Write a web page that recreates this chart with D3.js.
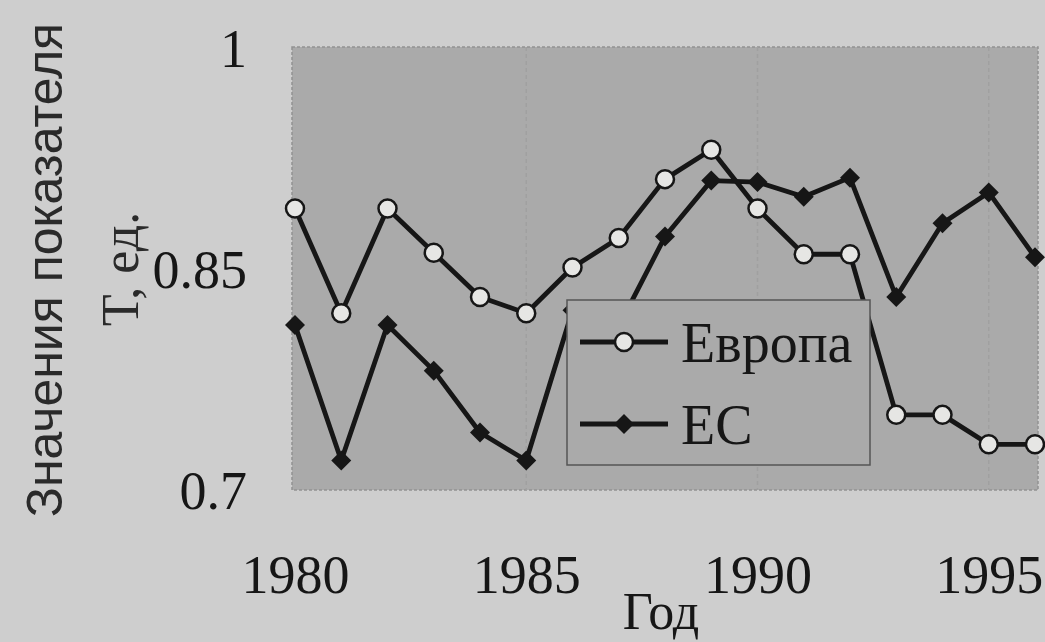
<!DOCTYPE html>
<html>
<head>
<meta charset="utf-8">
<script src="https://cdn.jsdelivr.net/npm/d3@7"></script>
<style>
  body { margin: 0; background: #cecece; }
  svg { display: block; }
</style>
</head>
<body>
<div id="chart"></div>
<script>
// Input data
const years = [1980, 1981, 1982, 1983, 1984, 1985, 1986, 1987, 1988,
               1989, 1990, 1991, 1992, 1993, 1994, 1995, 1996];
const europe = [0.891, 0.820, 0.891, 0.861, 0.831, 0.820, 0.851, 0.871, 0.911,
                0.931, 0.891, 0.860, 0.860, 0.751, 0.751, 0.731, 0.731];
const ec = [0.812, 0.720, 0.812, 0.781, 0.739, 0.720, 0.822, 0.811, 0.872,
            0.910, 0.909, 0.899, 0.912, 0.831, 0.881, 0.902, 0.858];
const xTicks = [1980, 1985, 1990, 1995];
const yTicks = [0.7, 0.85, 1];
const seriesNames = ['Европа', 'ЕС'];

const width = 1045;
const height = 642;

const svg = d3.select('#chart')
  .append('svg')
  .attr('width', width)
  .attr('height', height);

const x = d3.scaleLinear().domain([1980, 1996]).range([295, 1035]);
const y = d3.scaleLinear().domain([0.7, 1]).range([490, 48]);

// plot background
svg.append('rect')
  .attr('x', 292).attr('y', 47)
  .attr('width', 746).attr('height', 443)
  .attr('fill', '#aaaaaa')
  .attr('stroke', '#929292')
  .attr('stroke-width', 1.5)
  .attr('stroke-dasharray', '3,2');

// faint vertical grid
svg.append('g')
  .selectAll('line')
  .data(xTicks.slice(1))
  .enter()
  .append('line')
  .attr('x1', d => x(d)).attr('x2', d => x(d))
  .attr('y1', 47).attr('y2', 490)
  .attr('stroke', '#a0a0a0')
  .attr('stroke-width', 1.5)
  .attr('stroke-dasharray', '4,3');

const line = d3.line()
  .x((d, i) => x(years[i]))
  .y(d => y(d));

// EC series
svg.append('path')
  .datum(ec)
  .attr('d', line)
  .attr('fill', 'none')
  .attr('stroke', '#161616')
  .attr('stroke-width', 4.8)
  .attr('stroke-linejoin', 'round');

const diamond = d3.symbol().type(d3.symbolSquare).size(200);

svg.append('g')
  .selectAll('path')
  .data(ec)
  .enter()
  .append('path')
  .attr('d', diamond)
  .attr('transform', (d, i) => `translate(${x(years[i])}, ${y(d)}) rotate(45)`)
  .attr('fill', '#161616');

// Europe series
svg.append('path')
  .datum(europe)
  .attr('d', line)
  .attr('fill', 'none')
  .attr('stroke', '#161616')
  .attr('stroke-width', 4.8)
  .attr('stroke-linejoin', 'round');

svg.append('g')
  .selectAll('circle')
  .data(europe)
  .enter()
  .append('circle')
  .attr('cx', (d, i) => x(years[i]))
  .attr('cy', d => y(d))
  .attr('r', 9)
  .attr('fill', '#e6e6e4')
  .attr('stroke', '#161616')
  .attr('stroke-width', 2.5);

// legend (covers the lines underneath)
const legend = svg.append('g');
legend.append('rect')
  .attr('x', 567).attr('y', 300)
  .attr('width', 303).attr('height', 165)
  .attr('fill', '#aaaaaa')
  .attr('stroke', '#555555')
  .attr('stroke-width', 1.5);

const legendY = [342, 424];
seriesNames.forEach((name, i) => {
  legend.append('line')
    .attr('x1', 580).attr('x2', 668)
    .attr('y1', legendY[i]).attr('y2', legendY[i])
    .attr('stroke', '#161616')
    .attr('stroke-width', 4.8);
  if (i === 0) {
    legend.append('circle')
      .attr('cx', 624).attr('cy', legendY[i]).attr('r', 9)
      .attr('fill', '#e6e6e4')
      .attr('stroke', '#161616')
      .attr('stroke-width', 2.5);
  } else {
    legend.append('path')
      .attr('d', diamond)
      .attr('transform', `translate(624, ${legendY[i]}) rotate(45)`)
      .attr('fill', '#161616');
  }
  legend.append('text')
    .attr('x', 681).attr('y', legendY[i] + 20)
    .attr('font-family', 'Liberation Serif, serif')
    .attr('font-size', 56)
    .attr('fill', '#161616')
    .text(name);
});

// axes
const xAxis = svg.append('g')
  .attr('transform', 'translate(0, 490)')
  .call(d3.axisBottom(x).tickValues(xTicks).tickFormat(d3.format('d')).tickSize(0));
xAxis.select('.domain').remove();
xAxis.selectAll('text')
  .attr('dy', null)
  .attr('y', 103)
  .attr('font-family', 'Liberation Serif, serif')
  .attr('font-size', 54)
  .attr('fill', '#161616');

const yAxis = svg.append('g')
  .attr('transform', 'translate(247, 0)')
  .call(d3.axisLeft(y).tickValues(yTicks).tickFormat(d => String(d)).tickSize(0));
yAxis.select('.domain').remove();
yAxis.selectAll('text')
  .attr('x', 0)
  .attr('dy', '0.34em')
  .attr('font-family', 'Liberation Serif, serif')
  .attr('font-size', 54)
  .attr('fill', '#161616');

// axis titles
svg.append('text')
  .attr('transform', 'translate(661, 629)')
  .attr('text-anchor', 'middle')
  .attr('font-family', 'Liberation Serif, serif')
  .attr('font-size', 52)
  .attr('fill', '#161616')
  .text('Год');

svg.append('text')
  .attr('transform', 'translate(62, 270) rotate(-90)')
  .attr('text-anchor', 'middle')
  .attr('font-family', 'Liberation Sans, Arial, sans-serif')
  .attr('font-size', 50)
  .attr('fill', '#2a2a2a')
  .text('Значения показателя');

svg.append('text')
  .attr('transform', 'translate(138, 269) rotate(-90)')
  .attr('text-anchor', 'middle')
  .attr('font-family', 'Liberation Serif, serif')
  .attr('font-size', 52)
  .attr('fill', '#2a2a2a')
  .text('Т, ед.');
</script>
</body>
</html>
